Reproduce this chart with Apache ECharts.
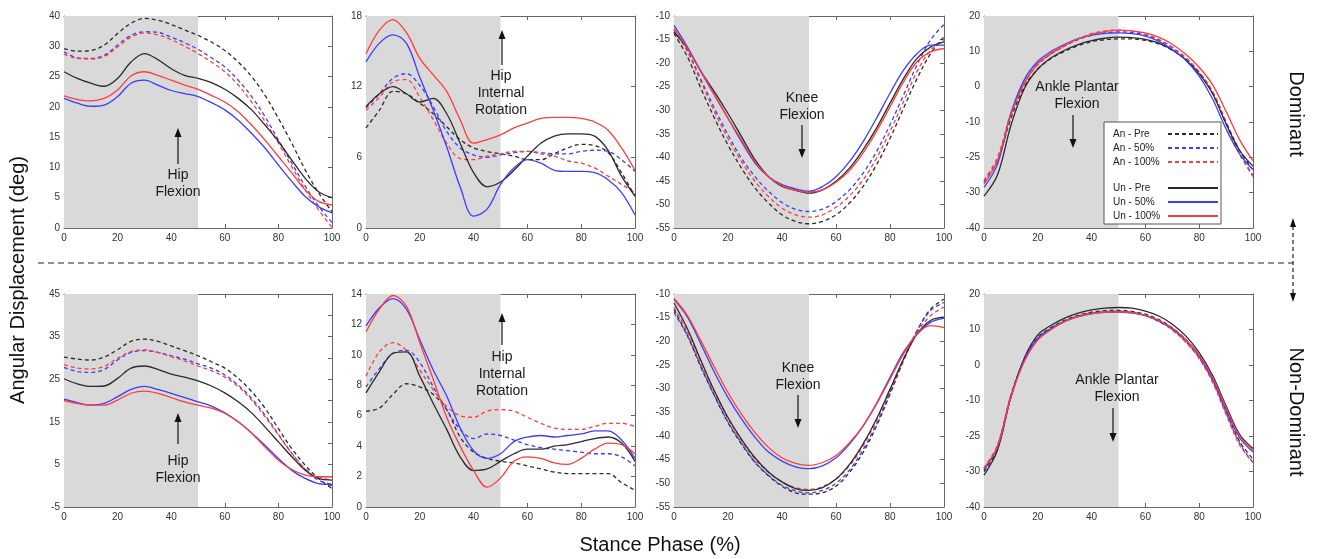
<!DOCTYPE html>
<html>
<head>
<meta charset="utf-8">
<title>Angular displacement over stance phase</title>
<script src="https://cdn.jsdelivr.net/npm/echarts@6/dist/echarts.min.js"></script>
<style>
  html, body { margin: 0; padding: 0; background: #fff; }
  #chart { width: 1317px; height: 559px; }
</style>
</head>
<body>
<div id="chart"></div>
<script>
// stance phase samples (%)
const phase = [0, 5, 10, 15, 20, 25, 30, 35, 40, 45, 50, 55, 60, 65, 70, 75, 80, 85, 90, 95, 100]
const seriesNames = ['An - Pre', 'An - 50%', 'An - 100%', 'Un - Pre', 'Un - 50%', 'Un - 100%']

// Dominant - hip flexion
const hipFlexD_anPre = [29.6, 29.2, 29.3, 30.2, 32.1, 33.8, 34.6, 34.3, 33.6, 32.7, 31.8, 30.7, 29.3, 27.4, 25.0, 21.9, 18.1, 14.0, 9.6, 5.8, 2.7]
const hipFlexD_an50 = [29.1, 28.1, 28.0, 28.5, 30.2, 31.8, 32.4, 32.3, 31.5, 30.6, 29.5, 28.1, 26.6, 24.4, 21.7, 18.4, 14.5, 10.7, 6.9, 3.6, 0.9]
const hipFlexD_an100 = [28.7, 28.0, 27.9, 28.3, 29.9, 31.5, 32.2, 31.9, 31.1, 30.0, 28.8, 27.4, 25.8, 23.6, 20.8, 17.6, 14.0, 10.1, 6.3, 3.0, 0.1]
const hipFlexD_unPre = [25.8, 24.7, 23.9, 23.4, 24.7, 27.4, 28.8, 27.8, 26.3, 25.2, 24.7, 24.0, 22.9, 21.4, 19.5, 17.0, 14.3, 11.2, 8.2, 6.0, 5.0]
const hipFlexD_un50 = [21.4, 20.6, 20.1, 20.3, 21.7, 23.9, 24.4, 23.6, 22.7, 22.2, 21.7, 20.7, 19.5, 17.8, 15.6, 13.2, 10.4, 7.7, 5.2, 3.5, 2.5]
const hipFlexD_un100 = [21.8, 21.2, 21.0, 21.4, 22.8, 25.1, 25.8, 25.2, 24.4, 23.6, 22.9, 21.9, 20.8, 19.2, 17.0, 14.5, 11.8, 9.1, 6.3, 4.4, 3.8]

// Dominant - hip internal rotation
const hipRotD_anPre = [8.5, 10.0, 11.6, 11.4, 10.6, 9.7, 8.6, 7.5, 6.8, 6.5, 6.3, 6.1, 5.8, 5.8, 6.3, 6.8, 7.1, 7.0, 6.4, 4.7, 2.7]
const hipRotD_an50 = [10.2, 11.4, 12.7, 13.1, 12.1, 10.3, 8.2, 6.8, 6.2, 6.0, 6.2, 6.4, 6.5, 6.4, 6.3, 6.3, 6.5, 6.6, 6.5, 5.8, 4.8]
const hipRotD_an100 = [10.0, 11.1, 12.4, 12.6, 11.1, 9.2, 7.2, 5.9, 5.8, 6.1, 6.3, 6.5, 6.5, 6.3, 6.1, 5.7, 5.5, 5.1, 4.4, 3.7, 3.0]
const hipRotD_unPre = [10.3, 11.4, 12.0, 11.4, 10.7, 11.0, 9.7, 7.2, 4.7, 3.5, 3.9, 4.9, 6.1, 7.2, 7.8, 8.0, 8.0, 7.8, 6.6, 4.4, 2.7]
const hipRotD_un50 = [14.1, 15.7, 16.4, 15.7, 12.8, 10.0, 6.9, 3.5, 1.0, 1.6, 3.7, 5.1, 5.8, 5.5, 4.9, 4.8, 4.8, 4.7, 4.1, 3.0, 1.1]
const hipRotD_un100 = [14.8, 16.8, 17.7, 16.6, 14.4, 13.0, 11.6, 9.2, 7.2, 7.5, 7.9, 8.5, 8.9, 9.3, 9.4, 9.4, 9.3, 9.0, 8.3, 6.8, 4.9]

// Dominant - knee flexion
const kneeD_anPre = [-13.7, -18.7, -25.4, -31.7, -37.4, -42.3, -46.5, -49.7, -52.2, -53.6, -54.1, -53.6, -52.2, -49.7, -46.2, -41.6, -36.0, -29.6, -23.3, -18.0, -14.4]
const kneeD_an50 = [-12.9, -17.3, -23.5, -29.6, -35.2, -40.2, -44.1, -47.2, -49.6, -51.0, -51.5, -51.0, -49.4, -46.9, -43.4, -38.8, -33.1, -26.8, -20.4, -15.1, -11.8]
const kneeD_an100 = [-13.0, -17.6, -24.0, -30.3, -36.0, -40.9, -45.1, -48.3, -50.8, -52.2, -52.7, -52.2, -50.6, -48.2, -44.8, -40.2, -34.5, -28.2, -21.8, -17.3, -15.1]
const kneeD_unPre = [-13.4, -16.9, -21.8, -26.1, -30.7, -35.6, -40.5, -44.1, -46.2, -47.0, -47.6, -46.9, -45.1, -42.3, -38.4, -33.8, -28.5, -23.3, -19.0, -16.6, -15.5]
const kneeD_un50 = [-12.0, -16.6, -21.8, -26.8, -31.7, -36.7, -41.2, -44.1, -45.8, -46.7, -47.2, -46.2, -44.1, -40.9, -36.7, -31.7, -26.4, -21.5, -18.0, -16.2, -16.2]
const kneeD_un100 = [-12.7, -16.9, -21.8, -26.8, -31.7, -36.3, -40.9, -44.1, -46.0, -47.0, -47.4, -46.9, -45.3, -42.8, -39.1, -34.5, -29.3, -24.0, -19.7, -17.6, -16.9]

// Dominant - ankle plantar flexion
const ankleD_anPre = [-27, -21, -9, 0, 5, 8, 10, 11.6, 12.7, 13.3, 13.5, 13.5, 13.1, 12.1, 10.3, 7.7, 4, -1.5, -10, -18, -23.5]
const ankleD_an50 = [-27, -21, -8, 1, 6.5, 9.3, 11.5, 13.3, 14.5, 15.2, 15.5, 15.3, 14.6, 13.2, 11, 8, 4, -2, -10.5, -19, -25]
const ankleD_an100 = [-26.5, -20, -7.5, 1.2, 6.2, 9.2, 11.5, 13.5, 15, 15.8, 16, 15.7, 14.9, 13.4, 11.2, 8.2, 4.2, -1.5, -10, -19, -25.5]
const ankleD_unPre = [-31, -25, -11, -0.5, 5, 8.2, 10.3, 11.9, 13, 13.7, 14, 13.9, 13.4, 12.3, 10.4, 7.6, 3.6, -2, -10.5, -18, -22.5]
const ankleD_un50 = [-28.5, -22, -7.5, 2, 7.2, 10, 12, 13.6, 14.6, 15.1, 15.2, 15, 14.3, 12.8, 10.5, 7.5, 3, -3.5, -12, -19, -23.5]
const ankleD_un100 = [-27.5, -21, -8, 1, 6.5, 9.5, 11.8, 13.5, 14.8, 15.6, 16, 15.8, 15.2, 14, 12, 9.2, 5.5, 0.5, -7, -15, -21]

// Non-dominant - hip flexion
const hipFlexND_anPre = [30.2, 29.7, 29.5, 30.2, 31.9, 33.9, 34.4, 33.9, 32.8, 31.7, 30.5, 29.1, 27.6, 25.2, 22.1, 18.2, 13.4, 8.7, 4.8, 1.7, -0.7]
const hipFlexND_an50 = [27.8, 26.8, 26.6, 27.3, 29.5, 31.3, 31.7, 31.3, 30.5, 29.7, 28.6, 27.6, 26.0, 23.6, 20.5, 16.6, 12.1, 7.6, 3.8, 1.3, 0.3]
const hipFlexND_an100 = [28.4, 27.6, 27.4, 28.0, 29.9, 31.5, 31.9, 31.3, 30.3, 29.3, 28.1, 27.0, 25.5, 23.3, 20.1, 16.2, 11.9, 7.6, 4.0, 2.1, 1.3]
const hipFlexND_unPre = [25.1, 23.9, 23.3, 23.4, 25.2, 27.6, 28.1, 27.3, 26.2, 25.5, 24.6, 23.4, 21.8, 19.7, 17.1, 13.8, 10.3, 6.8, 3.6, 1.7, 1.3]
const hipFlexND_un50 = [20.3, 19.5, 18.9, 19.3, 20.9, 22.6, 23.3, 22.6, 21.7, 20.7, 19.7, 18.7, 17.1, 15.0, 12.4, 9.5, 6.4, 3.6, 1.7, 0.5, 0.3]
const hipFlexND_un100 = [20.0, 19.3, 18.9, 18.9, 20.1, 21.7, 22.2, 21.7, 20.7, 19.7, 18.9, 18.2, 17.0, 15.0, 12.3, 9.1, 6.0, 3.8, 2.5, 2.1, 2.1]

// Non-dominant - hip internal rotation
const hipRotND_anPre = [6.3, 6.5, 7.4, 8.1, 7.9, 7.4, 6.4, 4.6, 3.6, 3.2, 3.0, 2.9, 2.7, 2.5, 2.3, 2.2, 2.2, 2.2, 2.2, 1.6, 1.1]
const hipRotND_an50 = [7.9, 9.1, 10.1, 10.3, 9.5, 7.9, 6.4, 5.1, 4.5, 4.8, 4.7, 4.4, 4.1, 3.9, 3.8, 3.7, 3.6, 3.5, 3.5, 3.3, 2.7]
const hipRotND_an100 = [8.6, 10.2, 10.8, 10.3, 9.0, 7.7, 6.6, 6.0, 5.9, 6.3, 6.4, 6.3, 5.9, 5.5, 5.2, 5.1, 5.1, 5.3, 5.5, 5.5, 5.3]
const hipRotND_unPre = [7.5, 8.9, 10.1, 10.2, 8.6, 6.8, 5.1, 3.3, 2.4, 2.5, 3.0, 3.5, 3.8, 3.8, 4.0, 4.1, 4.3, 4.5, 4.6, 4.2, 3.0]
const hipRotND_un50 = [11.9, 13.1, 13.7, 13.0, 11.0, 9.0, 7.3, 5.2, 3.7, 3.2, 3.5, 4.3, 4.6, 4.7, 4.6, 4.7, 4.8, 5.0, 5.0, 4.4, 3.2]
const hipRotND_un100 = [11.5, 13.0, 13.9, 13.2, 10.8, 8.4, 5.9, 4.0, 2.4, 1.3, 1.9, 3.0, 3.3, 3.2, 2.9, 2.8, 3.2, 3.8, 4.2, 4.1, 3.5]

// Non-dominant - knee flexion
const kneeND_anPre = [-13.3, -18.8, -25.5, -31.5, -37.2, -41.7, -45.6, -48.4, -50.6, -52.0, -52.3, -52.0, -50.6, -47.7, -43.5, -37.9, -31.2, -24.1, -17.8, -13.2, -11.1]
const kneeND_an50 = [-13.9, -18.8, -25.3, -31.5, -37.0, -41.5, -45.5, -48.3, -50.4, -51.6, -52.0, -51.5, -50.0, -47.2, -42.9, -37.5, -30.8, -23.8, -17.8, -13.5, -11.8]
const kneeND_an100 = [-12.8, -18.1, -24.8, -30.8, -36.4, -41.0, -44.9, -47.7, -49.7, -50.9, -51.3, -50.7, -49.1, -46.3, -42.1, -36.8, -30.5, -23.8, -18.1, -14.6, -12.8]
const kneeND_unPre = [-11.9, -17.4, -24.1, -30.5, -36.1, -40.7, -44.6, -47.6, -49.7, -51.1, -51.5, -50.9, -49.1, -46.0, -41.7, -36.4, -30.1, -23.8, -18.5, -15.6, -14.9]
const kneeND_un50 = [-11.2, -14.9, -20.6, -26.6, -31.9, -36.4, -40.3, -43.4, -45.3, -46.5, -46.9, -46.3, -44.6, -41.7, -37.9, -33.1, -27.6, -22.3, -18.5, -16.0, -15.1]
const kneeND_un100 = [-10.9, -14.6, -19.9, -25.5, -30.8, -35.4, -39.3, -42.4, -44.6, -45.8, -46.2, -45.6, -44.1, -41.4, -37.9, -33.3, -28.0, -22.7, -18.5, -16.7, -17.1]

// Non-dominant - ankle plantar flexion
const ankleND_anPre = [-30, -23.5, -9, 1.5, 7.8, 10.6, 12.6, 14, 14.9, 15.3, 15.4, 15.1, 14.3, 12.8, 10.5, 7.2, 2.6, -4, -13, -21.5, -26.5]
const ankleND_an50 = [-29.5, -23, -8.5, 1.5, 7.5, 10.4, 12.4, 13.8, 14.6, 15, 15.1, 14.8, 14, 12.4, 10, 6.6, 2, -4.5, -13.5, -22, -27.5]
const ankleND_an100 = [-29, -22.5, -8.5, 1.2, 7.2, 10.2, 12.3, 13.8, 14.6, 15, 15.1, 14.8, 13.9, 12.2, 9.8, 6.4, 1.8, -5, -14, -22.5, -27.5]
const ankleND_unPre = [-31, -24, -9, 2, 8.5, 11.2, 13.2, 14.6, 15.5, 16, 16.2, 16, 15.2, 13.8, 11.5, 8.2, 3.5, -3, -11.5, -19.5, -23.5]
const ankleND_un50 = [-29.5, -23, -9, 1.5, 7.5, 10.3, 12.3, 13.6, 14.4, 14.8, 14.9, 14.6, 13.9, 12.4, 10.2, 7, 2.5, -4, -12.5, -20.5, -24.5]
const ankleND_un100 = [-29, -23, -9, 1, 7, 10, 12.2, 13.6, 14.5, 14.9, 15, 14.7, 14, 12.6, 10.4, 7.2, 2.8, -3.5, -12, -20, -24]

// y tick label texts as printed (the original figure has a few odd labels)
const hipFlexD_ticks = { 0: '0', 5: '5', 10: '10', 15: '15', 20: '20', 25: '25', 30: '30', 35: '40' }
const ankle_ticks = { 20: '20', 10: '10', 0: '0', '-10': '-10', '-20': '-25', '-30': '-30', '-40': '-40' }

const FONT = '"Liberation Sans", Arial, Helvetica, sans-serif'
const colors = ['#2a2a2a', '#3c3cff', '#ff3c3c', '#2a2a2a', '#3c3cff', '#ff3c3c']
const dashed = [true, true, true, false, false, false]

const panels = [
  // top row: dominant
  { left: 64, top: 16, width: 268, height: 212, min: 0, max: 35, interval: 5,
    label: v => hipFlexD_ticks[v], lines: [hipFlexD_anPre, hipFlexD_an50, hipFlexD_an100, hipFlexD_unPre, hipFlexD_un50, hipFlexD_un100] },
  { left: 366, top: 16, width: 269, height: 212, min: 0, max: 18, interval: 6,
    label: v => String(v), lines: [hipRotD_anPre, hipRotD_an50, hipRotD_an100, hipRotD_unPre, hipRotD_un50, hipRotD_un100] },
  { left: 674, top: 16, width: 270, height: 212, min: -55, max: -10, interval: 5,
    label: v => String(v), lines: [kneeD_anPre, kneeD_an50, kneeD_an100, kneeD_unPre, kneeD_un50, kneeD_un100] },
  { left: 984, top: 16, width: 269, height: 212, min: -40, max: 20, interval: 10,
    label: v => ankle_ticks[v], lines: [ankleD_anPre, ankleD_an50, ankleD_an100, ankleD_unPre, ankleD_un50, ankleD_un100] },
  // bottom row: non-dominant
  { left: 64, top: 294, width: 268, height: 213, min: -5, max: 45, interval: 5,
    label: v => ((v + 5) % 10 === 0 ? String(v) : ''), lines: [hipFlexND_anPre, hipFlexND_an50, hipFlexND_an100, hipFlexND_unPre, hipFlexND_un50, hipFlexND_un100] },
  { left: 366, top: 294, width: 269, height: 213, min: 0, max: 14, interval: 2,
    label: v => String(v), lines: [hipRotND_anPre, hipRotND_an50, hipRotND_an100, hipRotND_unPre, hipRotND_un50, hipRotND_un100] },
  { left: 674, top: 294, width: 270, height: 213, min: -55, max: -10, interval: 5,
    label: v => String(v), lines: [kneeND_anPre, kneeND_an50, kneeND_an100, kneeND_unPre, kneeND_un50, kneeND_un100] },
  { left: 984, top: 294, width: 269, height: 213, min: -40, max: 20, interval: 10,
    label: v => ankle_ticks[v], lines: [ankleND_anPre, ankleND_an50, ankleND_an100, ankleND_unPre, ankleND_un50, ankleND_un100] },
]

// annotation texts with arrows (pixel placement)
const notes = [
  { lines: ['Hip', 'Flexion'], x: 178, y: 175, ax: 178, ay1: 164, ay2: 128 },
  { lines: ['Hip', 'Internal', 'Rotation'], x: 501, y: 76, ax: 502, ay1: 65, ay2: 30 },
  { lines: ['Knee', 'Flexion'], x: 802, y: 98, ax: 802, ay1: 125, ay2: 158 },
  { lines: ['Ankle Plantar', 'Flexion'], x: 1077, y: 87, ax: 1073, ay1: 115, ay2: 148 },
  { lines: ['Hip', 'Flexion'], x: 178, y: 461, ax: 178, ay1: 444, ay2: 413 },
  { lines: ['Hip', 'Internal', 'Rotation'], x: 502, y: 357, ax: 502, ay1: 345, ay2: 313 },
  { lines: ['Knee', 'Flexion'], x: 798, y: 368, ax: 798, ay1: 395, ay2: 428 },
  { lines: ['Ankle Plantar', 'Flexion'], x: 1117, y: 380, ax: 1113, ay1: 408, ay2: 442 },
]

const axisLine = { show: true, onZero: false, lineStyle: { color: '#666', width: 1 } }
const tickIn = { show: true, inside: true, length: 4, lineStyle: { color: '#666' } }
const labelStyle = { color: '#333', fontSize: 10, fontFamily: FONT }

const grid = []
const xAxis = []
const yAxis = []
const series = []

panels.forEach((p, i) => {
  grid.push({ left: p.left, top: p.top, width: p.width, height: p.height, containLabel: false })

  // bottom + mirrored top x axis
  xAxis.push({ type: 'value', gridIndex: i, min: 0, max: 100, interval: 20, position: 'bottom',
    axisLine, axisTick: tickIn, splitLine: { show: false },
    axisLabel: Object.assign({ margin: 5 }, labelStyle) })
  xAxis.push({ type: 'value', gridIndex: i, min: 0, max: 100, interval: 20, position: 'top',
    axisLine, axisTick: tickIn, splitLine: { show: false }, axisLabel: { show: false } })

  // left + mirrored right y axis
  yAxis.push({ type: 'value', gridIndex: i, min: p.min, max: p.max, interval: p.interval, position: 'left',
    axisLine, axisTick: tickIn, splitLine: { show: false },
    axisLabel: Object.assign({ margin: 4, formatter: p.label }, labelStyle) })
  yAxis.push({ type: 'value', gridIndex: i, min: p.min, max: p.max, interval: p.interval, position: 'right',
    axisLine, axisTick: tickIn, splitLine: { show: false }, axisLabel: { show: false } })

  // shaded first half of stance
  series.push({
    type: 'line', name: '', xAxisIndex: i * 2, yAxisIndex: i * 2, data: [], z: 1, silent: true,
    markArea: { silent: true, itemStyle: { color: '#d9d9d9' }, data: [[{ xAxis: 0 }, { xAxis: 50 }]] },
  })

  p.lines.forEach((vals, k) => {
    series.push({
      type: 'line',
      name: seriesNames[k],
      xAxisIndex: i * 2,
      yAxisIndex: i * 2,
      data: phase.map((x, j) => [x, vals[j]]),
      smooth: 0.35,
      showSymbol: false,
      symbol: 'none',
      z: 3,
      lineStyle: { color: colors[k], width: 1.3, type: dashed[k] ? [4, 3] : 'solid' },
      itemStyle: { color: colors[k] },
    })
  })
})

// graphics: annotations, big labels, dividers, legend box
const graphic = []

notes.forEach(n => {
  n.lines.forEach((t, j) => {
    graphic.push({ type: 'text', z: 20, style: { text: t, x: n.x, y: n.y + j * 17, align: 'center', verticalAlign: 'middle',
      font: '14px ' + FONT, fill: '#1a1a1a' } })
  })
  const dir = n.ay2 > n.ay1 ? 1 : -1
  graphic.push({ type: 'line', z: 20, shape: { x1: n.ax, y1: n.ay1, x2: n.ax, y2: n.ay2 - dir * 8 }, style: { stroke: '#111', lineWidth: 1.2 } })
  graphic.push({ type: 'polygon', z: 20, shape: { points: [[n.ax - 3.5, n.ay2 - dir * 9], [n.ax + 3.5, n.ay2 - dir * 9], [n.ax, n.ay2]] }, style: { fill: '#111' } })
})

graphic.push({ type: 'text', z: 20, x: 18, y: 280, rotation: Math.PI / 2,
  style: { text: 'Angular Displacement (deg)', align: 'center', verticalAlign: 'middle', font: '20px ' + FONT, fill: '#111' } })
graphic.push({ type: 'text', z: 20, style: { text: 'Stance Phase (%)', x: 660, y: 545, align: 'center', verticalAlign: 'middle', font: '20px ' + FONT, fill: '#111' } })
graphic.push({ type: 'text', z: 20, x: 1296, y: 114, rotation: -Math.PI / 2,
  style: { text: 'Dominant', align: 'center', verticalAlign: 'middle', font: '20px ' + FONT, fill: '#111' } })
graphic.push({ type: 'text', z: 20, x: 1296, y: 412, rotation: -Math.PI / 2,
  style: { text: 'Non-Dominant', align: 'center', verticalAlign: 'middle', font: '20px ' + FONT, fill: '#111' } })

// divider between dominant and non-dominant rows
graphic.push({ type: 'polyline', z: 20, shape: { points: [[38, 263], [1293, 263]] }, style: { stroke: '#222', lineWidth: 1.2, lineDash: [6, 4], fill: null } })
graphic.push({ type: 'line', z: 20, shape: { x1: 1293, y1: 226, x2: 1293, y2: 294 }, style: { stroke: '#222', lineWidth: 1.2, lineDash: [4, 3] } })
graphic.push({ type: 'polygon', z: 20, shape: { points: [[1290, 227], [1296, 227], [1293, 218]] }, style: { fill: '#111' } })
graphic.push({ type: 'polygon', z: 20, shape: { points: [[1290, 293], [1296, 293], [1293, 302]] }, style: { fill: '#111' } })

// legend frame
graphic.push({ type: 'rect', z: 5, shape: { x: 1104, y: 122, width: 117, height: 102 }, style: { fill: '#fff', stroke: '#555', lineWidth: 1 } })

const legendBase = {
  orient: 'vertical', align: 'right', itemWidth: 50, itemHeight: 10, itemGap: 4, z: 10,
  itemStyle: { opacity: 0 },
  selectedMode: false,
  formatter: name => '{t|' + name + '}',
  textStyle: { fontSize: 10, fontFamily: FONT, color: '#222',
    rich: { t: { width: 50, align: 'left', fontSize: 10, fontFamily: FONT, color: '#222' } } },
}

const option = {
  animation: false,
  backgroundColor: '#fff',
  grid, xAxis, yAxis, series, graphic,
  legend: [
    Object.assign({}, legendBase, { left: 1108, top: 124, data: seriesNames.slice(0, 3) }),
    Object.assign({}, legendBase, { left: 1108, top: 178, data: seriesNames.slice(3) }),
  ],
}

const chart = echarts.init(document.getElementById('chart'))
chart.setOption(option)
</script>
</body>
</html>
